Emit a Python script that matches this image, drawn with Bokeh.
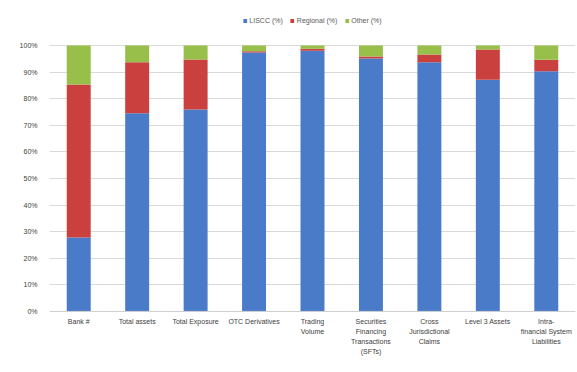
from bokeh.plotting import figure
from bokeh.models import (PrintfTickFormatter, FixedTicker, Legend, LegendItem,
                          Span, ColumnDataSource)
from bokeh.core.properties import value
from bokeh.embed import file_html
from bokeh.resources import INLINE

# Share of each indicator held by bank group (percent)
categories = [
    "Bank #",
    "Total assets",
    "Total Exposure",
    "OTC Derivatives",
    "Trading Volume",
    "Securities Financing Transactions (SFTs)",
    "Cross Jurisdictional Claims",
    "Level 3 Assets",
    "Intra-financial System Liabilities",
]
# how each category name is wrapped under its bar
category_lines = [
    ["Bank #"],
    ["Total assets"],
    ["Total Exposure"],
    ["OTC Derivatives"],
    ["Trading", "Volume"],
    ["Securities", "Financing", "Transactions", "(SFTs)"],
    ["Cross", "Jurisdictional", "Claims"],
    ["Level 3 Assets"],
    ["Intra-", "financial System", "Liabilities"],
]
lisc = [27.8, 74.5, 75.9, 97.4, 98.0, 95.1, 93.7, 87.1, 90.3]
regional = [57.5, 19.2, 18.8, 0.4, 0.8, 0.8, 2.9, 11.4, 4.3]
other = [14.7, 6.3, 5.3, 2.2, 1.2, 4.1, 3.4, 1.5, 5.4]
series_names = ["LISCC (%)", "Regional (%)", "Other (%)"]
colors = ["#4a7bc8", "#c9403f", "#98bf4a"]
y_ticks = [0, 10, 20, 30, 40, 50, 60, 70, 80, 90, 100]

FONT = "Liberation Sans"
LINE_STEP = 3.7      # vertical distance between wrapped label lines, in % units
LABEL_TOP = -2.6     # where the first label line starts, in % units

data = {"cat": categories, "lisc": lisc, "regional": regional, "other": other}

# the frame reaches below 0% for the category names and above 100% for the legend
p = figure(
    x_range=categories, y_range=(-22.2, 113.9),
    width=577, height=372,
    output_backend="svg", toolbar_location=None,
    min_border_left=49, min_border_right=2,
    min_border_top=8, min_border_bottom=2,
)

renderers = p.vbar_stack(
    ["lisc", "regional", "other"], x="cat", width=0.41,
    color=colors, line_color=None, source=data,
)

# category labels, one text row per wrapped line
lx, ly, lt = [], [], []
for cat, lines in zip(categories, category_lines):
    for i, line in enumerate(lines):
        lx.append(cat)
        ly.append(LABEL_TOP - i * LINE_STEP)
        lt.append(line)
p.text(x="cat", y="y", text="t", source=ColumnDataSource(dict(cat=lx, y=ly, t=lt)),
       text_font=value(FONT), text_font_size="7px", text_color="#404040",
       text_align="center", text_baseline="top")

p.add_layout(Span(location=0, dimension="width", line_color="#d0d0d0", line_width=1))

legend = Legend(
    items=[LegendItem(label=n, renderers=[r]) for n, r in zip(series_names, renderers)],
    orientation="horizontal", location="top_center",
    label_text_font=FONT, label_text_font_size="7px",
    label_text_color="#595959", glyph_width=5, glyph_height=5,
    label_standoff=2, spacing=7, padding=2, margin=9,
    border_line_color=None, background_fill_alpha=0,
)
p.add_layout(legend)

p.xaxis.visible = False
p.yaxis.ticker = FixedTicker(ticks=y_ticks)
p.yaxis.formatter = PrintfTickFormatter(format="%d%%")
p.yaxis.major_label_text_font = FONT
p.yaxis.major_label_text_font_size = "7px"
p.yaxis.major_label_text_color = "#404040"
p.yaxis.major_tick_line_color = None
p.yaxis.minor_tick_line_color = None
p.yaxis.axis_line_color = None
p.yaxis.major_label_standoff = 6
p.ygrid.ticker = FixedTicker(ticks=y_ticks)
p.ygrid.grid_line_color = "#d9d9d9"
p.xgrid.grid_line_color = None
p.outline_line_color = None
p.x_range.range_padding = 0.0

open("out.html", "w").write(file_html(p, INLINE))
